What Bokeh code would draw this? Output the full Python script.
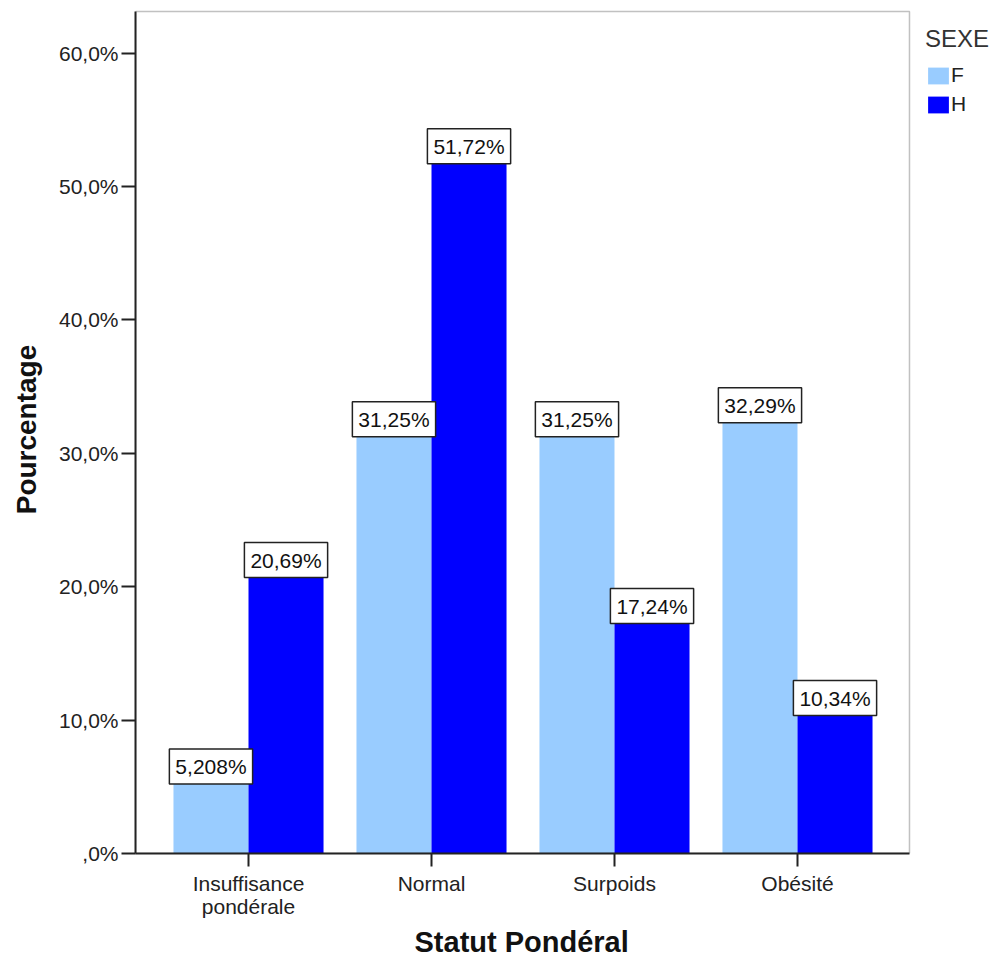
from bokeh.plotting import figure
from bokeh.models import (Range1d, FixedTicker, ColumnDataSource,
                          Legend, LegendItem, BoxAnnotation, Title)
from bokeh.core.properties import value
from bokeh.embed import file_html
from bokeh.resources import INLINE

# Weight status categories and percentage per sex
categories = ["Insuffisance\npondérale", "Normal", "Surpoids", "Obésité"]
pct_f = [5.208, 31.25, 31.25, 32.29]
pct_h = [20.69, 51.72, 17.24, 10.34]
sexes = ["F", "H"]

y_ticks = [0, 10, 20, 30, 40, 50, 60]
y_tick_labels = [",0%", "10,0%", "20,0%", "30,0%", "40,0%", "50,0%", "60,0%"]

FONT = "Liberation Sans"

# plotting area bounds (the canvas extends further right to host the legend)
X_START, X_END = 0.3825, 4.612
Y_END = 63.13


def fmt(v):
    return f"{v:.4g}".replace(".", ",") + "%"


idx = list(range(1, len(categories) + 1))
offset = 0.205
bar_w = 0.41

src_f = ColumnDataSource(dict(x=[i - offset for i in idx], top=pct_f,
                              label=[fmt(v) for v in pct_f]))
src_h = ColumnDataSource(dict(x=[i + offset for i in idx], top=pct_h,
                              label=[fmt(v) for v in pct_h]))

p = figure(width=995, height=962,
           x_range=Range1d(X_START, 5.082), y_range=Range1d(0, 63.58),
           output_backend="svg", toolbar_location=None,
           min_border_left=135, min_border_right=0,
           min_border_top=5, min_border_bottom=109)

r_f = p.vbar(x="x", top="top", width=bar_w, source=src_f,
             fill_color="#99CCFF", line_color=None)
r_h = p.vbar(x="x", top="top", width=bar_w, source=src_h,
             fill_color="#0000FF", line_color=None)

# value boxes sitting on top of each bar
for src in (src_f, src_h):
    p.text(x="x", y="top", text="label", source=src,
           text_align="center", text_baseline="bottom",
           text_font=value(FONT), text_font_size="21px",
           text_color="#111111",
           background_fill_color="white",
           border_line_color="#222222", border_line_width=1.5,
           padding=6)

# border around the plotting area
p.add_layout(BoxAnnotation(left=X_START, right=X_END, bottom=0, top=Y_END,
                           fill_color=None, line_color="#333333",
                           line_width=1.5))
p.outline_line_color = None

# axes
p.xgrid.visible = False
p.ygrid.visible = False
p.axis.minor_tick_line_color = None
p.axis.axis_line_color = "#222222"
p.axis.axis_line_width = 2
p.axis.major_tick_line_color = "#222222"
p.axis.major_tick_line_width = 2
p.axis.major_tick_in = 0
p.axis.major_label_text_font = FONT
p.axis.major_label_text_font_size = "21px"
p.axis.major_label_text_color = "#222222"
p.axis.axis_label_text_font = FONT
p.axis.axis_label_text_font_style = "bold"
p.axis.axis_label_text_color = "#111111"

p.xaxis.bounds = (X_START, X_END)
p.xaxis.ticker = FixedTicker(ticks=idx)
p.xaxis.major_label_overrides = {i: c for i, c in zip(idx, categories)}
p.xaxis.major_label_text_line_height = 1.0
p.xaxis.major_tick_out = 13
p.xaxis.major_label_standoff = 5

p.yaxis.bounds = (0, Y_END)
p.yaxis.ticker = FixedTicker(ticks=y_ticks)
p.yaxis.major_label_overrides = {t: l for t, l in zip(y_ticks, y_tick_labels)}
p.yaxis.major_tick_out = 14
p.yaxis.major_label_standoff = 3
p.yaxis.axis_label = "Pourcentage"
p.yaxis.axis_label_text_font_size = "28px"
p.yaxis.axis_label_standoff = 14

# x-axis title, centred under the plotting area only
p.add_layout(Title(text="Statut Pondéral", align="left", offset=279,
                   text_font=FONT, text_font_size="29px",
                   text_font_style="bold", text_color="#111111",
                   standoff=6), "below")

# legend right of the plotting area
legend = Legend(items=[LegendItem(label=sexes[0], renderers=[r_f]),
                       LegendItem(label=sexes[1], renderers=[r_h])],
                title="SEXE", location=(790, 737))
legend.title_text_font = FONT
legend.title_text_font_size = "24px"
legend.title_text_font_style = "normal"
legend.title_text_color = "#333333"
legend.title_standoff = 10
legend.label_text_font = FONT
legend.label_text_font_size = "21px"
legend.label_text_color = "#222222"
legend.glyph_width = 26
legend.glyph_height = 21
legend.label_standoff = 0
legend.spacing = 5
legend.padding = 4
legend.margin = 0
legend.border_line_color = None
legend.background_fill_alpha = 0
p.add_layout(legend)

p.background_fill_color = "white"
p.border_fill_color = "white"

open("out.html", "w").write(file_html(p, INLINE))
